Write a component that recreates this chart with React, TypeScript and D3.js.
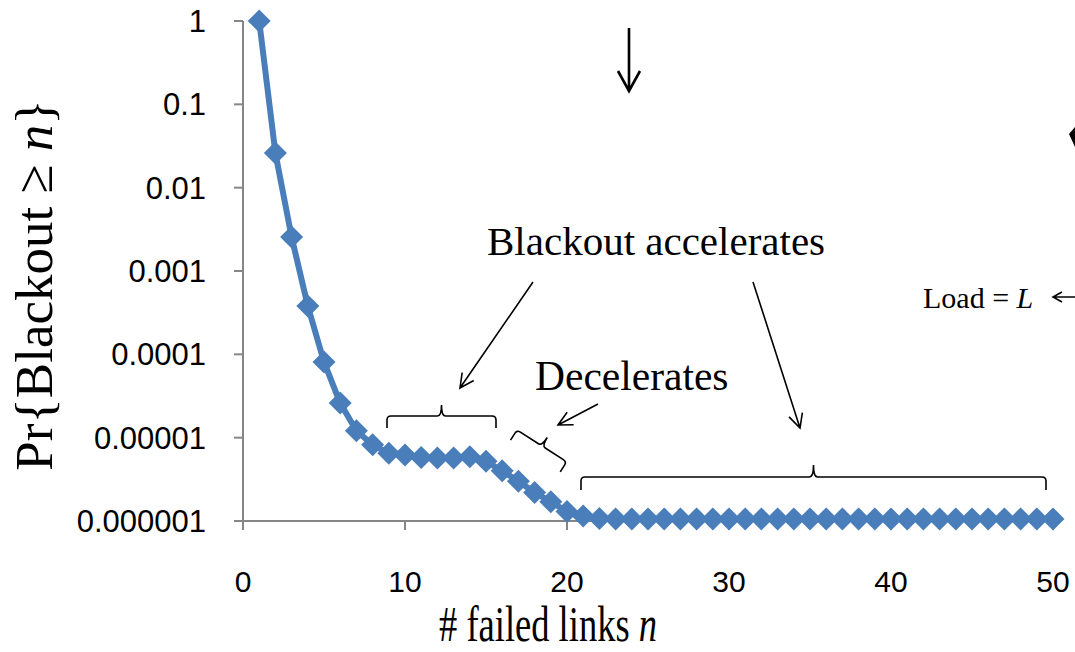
import React from "react";
import * as d3 from "d3";

// Complementary CDF of blackout size: Pr{Blackout >= n} for n = 1..50
const failedLinks: number[] = d3.range(1, 51);
const blackoutProb: number[] = [
  1, 0.026, 0.00256, 0.00038, 0.000081, 0.000026, 0.0000121, 0.0000082, 0.0000065, 0.0000062,
  0.0000058, 0.0000057, 0.0000057, 0.0000059, 0.0000052, 0.000004, 0.000003, 0.0000022, 0.0000017, 0.0000013,
  0.00000115, 0.00000107, 0.00000106, 0.00000106, 0.00000106, 0.00000106, 0.00000106, 0.00000106, 0.00000106, 0.00000106,
  0.00000106, 0.00000106, 0.00000106, 0.00000106, 0.00000106, 0.00000106, 0.00000106, 0.00000106, 0.00000106, 0.00000106,
  0.00000106, 0.00000106, 0.00000106, 0.00000106, 0.00000106, 0.00000106, 0.00000106, 0.00000106, 0.00000106, 0.00000106,
];

const xTicks: number[] = [0, 10, 20, 30, 40, 50];
const yTicks: number[] = [1, 0.1, 0.01, 0.001, 0.0001, 0.00001, 0.000001];
const yTickLabels: string[] = ["1", "0.1", "0.01", "0.001", "0.0001", "0.00001", "0.000001"];

const W = 1075;
const H = 652;
const BLUE = "#4A7EBB";
const AXIS = "#868686";
const SERIF = "'Liberation Serif', 'Times New Roman', serif";
const SANS = "'Liberation Sans', Arial, sans-serif";

const x = d3.scaleLinear().domain([0, 50]).range([243, 1053]);
const y = d3.scaleLog().domain([0.000001, 1]).range([521, 21]);

// open "V" arrowhead at (x2,y2) pointing along the segment from (x1,y1)
function arrowPath(x1: number, y1: number, x2: number, y2: number, len: number, half: number) {
  const a = Math.atan2(y2 - y1, x2 - x1);
  const bx = x2 - len * Math.cos(a);
  const by = y2 - len * Math.sin(a);
  const px = -Math.sin(a) * half;
  const py = Math.cos(a) * half;
  return `M${x1},${y1}L${x2},${y2}M${bx + px},${by + py}L${x2},${y2}L${bx - px},${by - py}`;
}

// curly brace along local x from 0..len, ends dropping by `drop`, middle tip rising by `bump`
function bracePath(len: number, drop: number, bump: number) {
  const r = 4;
  const c = len / 2;
  return (
    `M0,${drop}L0,${r}Q0,0 ${r},0L${c - r},0Q${c},0 ${c},${-bump}` +
    `Q${c},0 ${c + r},0L${len - r},0Q${len},0 ${len},${r}L${len},${drop}`
  );
}

const diamond = "M0,-11.5L11.5,0L0,11.5L-11.5,0Z";

export default function App() {
  const line = d3
    .line<number>()
    .x((_, i) => x(failedLinks[i]))
    .y((d) => y(d));

  const [x0, x1] = x.range();
  const [yBottom, yTop] = y.range();

  return (
    <svg
      width={W}
      height={H}
      viewBox={`0 0 ${W} ${H}`}
      style={{ position: "absolute", left: 0, top: 0, background: "#fff" }}
    >
      {/* axes */}
      <g stroke={AXIS} strokeWidth={2} fill="none">
        <line x1={x0} y1={yTop} x2={x0} y2={yBottom} />
        <line x1={x0} y1={yBottom} x2={x1} y2={yBottom} />
        {yTicks.map((t) => (
          <line key={"yt" + t} x1={x0 - 9} x2={x0} y1={y(t)} y2={y(t)} />
        ))}
        {xTicks.map((t) => (
          <line key={"xt" + t} x1={x(t)} x2={x(t)} y1={yBottom} y2={yBottom + 9} />
        ))}
      </g>
      <g fontFamily={SANS} fill="#000">
        {yTicks.map((t, i) => (
          <text key={"yl" + t} x={206} y={y(t)} dy="0.36em" textAnchor="end" fontSize={31}>
            {yTickLabels[i]}
          </text>
        ))}
        {xTicks.map((t) => (
          <text key={"xl" + t} x={x(t)} y={592} textAnchor="middle" fontSize={30}>
            {t}
          </text>
        ))}
      </g>

      {/* axis titles */}
      <text
        fontFamily={SERIF}
        fontSize={53}
        textAnchor="middle"
        transform={`translate(52,285) rotate(-90)`}
      >
        Pr{"{"}Blackout ≥ <tspan fontStyle="italic">n</tspan>
        {"}"}
      </text>
      <text
        fontFamily={SERIF}
        fontSize={50}
        textAnchor="middle"
        transform="translate(548,641) scale(0.73,1)"
      >
        # failed links <tspan fontStyle="italic">n</tspan>
      </text>

      {/* data series */}
      <path d={line(blackoutProb) ?? ""} fill="none" stroke={BLUE} strokeWidth={6} strokeLinejoin="round" />
      <g fill={BLUE}>
        {blackoutProb.map((v, i) => (
          <path key={"m" + i} d={diamond} transform={`translate(${x(failedLinks[i])},${y(v)})`} />
        ))}
      </g>

      {/* annotations */}
      <g fontFamily={SERIF} fill="#000">
        <text x={487} y={255} fontSize={41}>Blackout accelerates</text>
        <text x={535} y={390} fontSize={41.5}>Decelerates</text>
        <text x={923} y={308} fontSize={30}>
          Load = <tspan fontStyle="italic">L</tspan>
        </text>
      </g>
      <g stroke="#000" fill="none" strokeWidth={1.6}>
        <path d={arrowPath(533, 282, 460, 388, 14, 7)} />
        <path d={arrowPath(753, 282, 800, 428, 14, 7)} />
        <path d={arrowPath(598, 404, 558, 425, 14, 7)} />
        <path d={arrowPath(1080, 297, 1053, 297, 9, 5)} />
        <path d={arrowPath(629, 28, 629, 91, 20, 11)} strokeWidth={2.6} />
        <path d={bracePath(109, 12, 11)} transform="translate(387,416)" />
        <path d={bracePath(59, 12, 10)} transform="translate(517,430) rotate(32.6)" />
        <path d={bracePath(465, 13, 12)} transform="translate(581,477)" />
      </g>
      <polygon points="1069,134 1075,127 1075,147" fill="#000" />
    </svg>
  );
}
